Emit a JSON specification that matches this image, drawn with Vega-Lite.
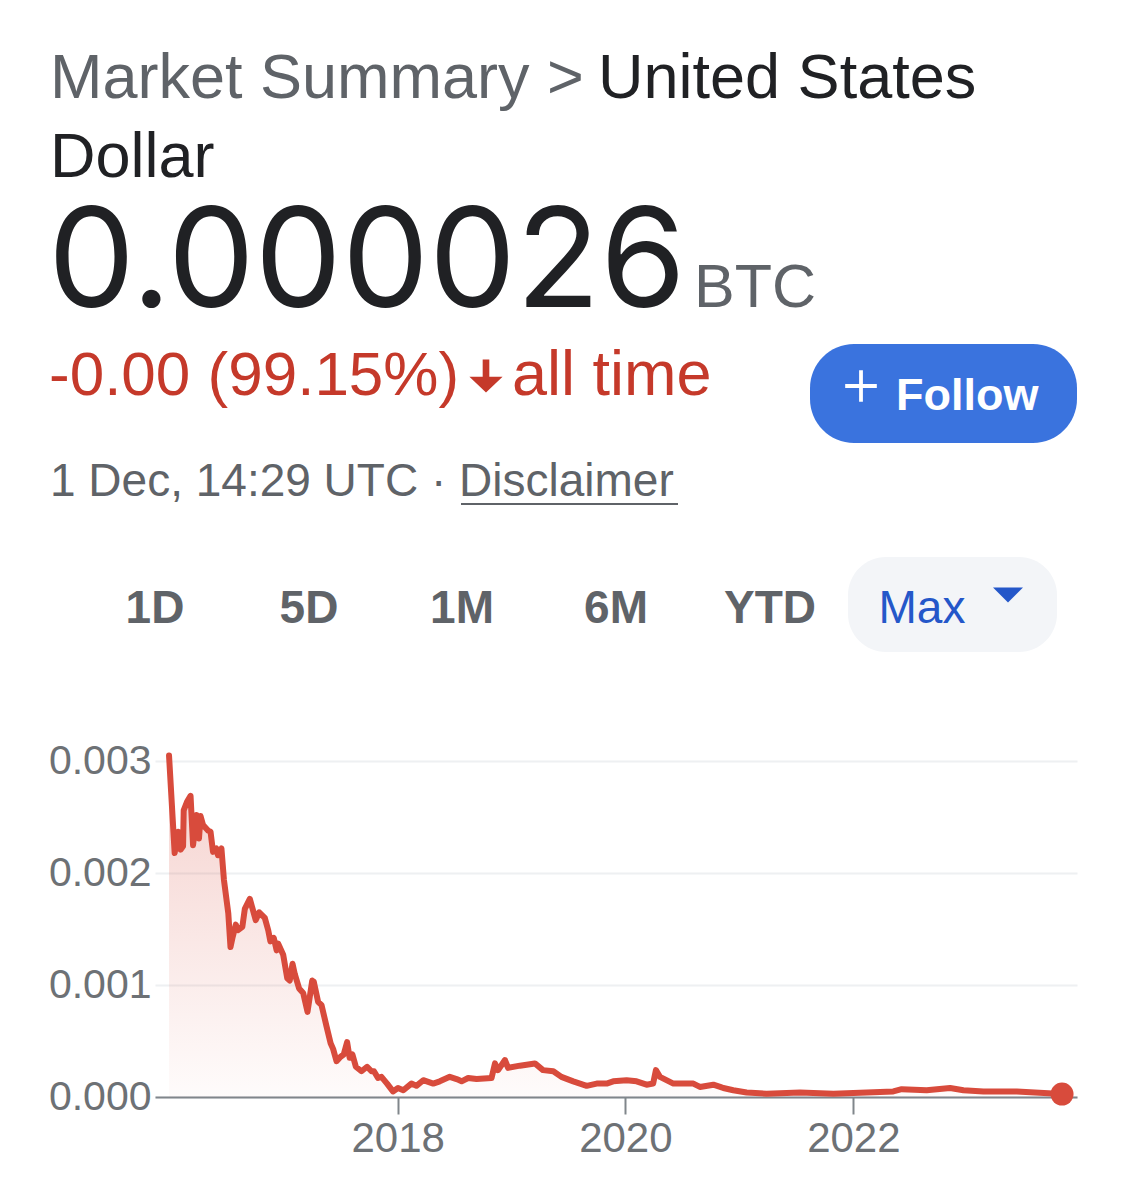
{
  "$schema": "https://vega.github.io/schema/vega-lite/v6.json",
  "width": 922,
  "height": 347,
  "autosize": {"type": "none"},
  "padding": {"left": 155, "top": 750, "right": 48, "bottom": 86},
  "background": "#ffffff",
  "config": {
    "view": {"stroke": null},
    "font": "Liberation Sans",
    "axisX": {"domainColor": "#80868b", "domainWidth": 2, "tickColor": "#80868b", "tickWidth": 2, "tickSize": 17, "labelFontSize": 42, "labelColor": "#6d7175", "labelPadding": 4, "grid": false, "title": null, "labelFont": "Liberation Sans"},
    "axisY": {"domain": false, "ticks": false, "labelFontSize": 41, "labelColor": "#6d7175", "labelPadding": 4, "gridColor": "#eef0f2", "gridWidth": 2, "title": null, "labelFont": "Liberation Sans"}
  },
  "datasets": {
    "series": [
      {"date": "2015-12-30", "value": 0.00305},
      {"date": "2016-01-17", "value": 0.00218},
      {"date": "2016-01-28", "value": 0.00237},
      {"date": "2016-02-05", "value": 0.00221},
      {"date": "2016-02-13", "value": 0.00224},
      {"date": "2016-02-15", "value": 0.00256},
      {"date": "2016-02-26", "value": 0.00264},
      {"date": "2016-03-08", "value": 0.00269},
      {"date": "2016-03-16", "value": 0.00225},
      {"date": "2016-03-27", "value": 0.00252},
      {"date": "2016-04-04", "value": 0.00231},
      {"date": "2016-04-09", "value": 0.00251},
      {"date": "2016-04-17", "value": 0.00243},
      {"date": "2016-05-03", "value": 0.00238},
      {"date": "2016-05-11", "value": 0.00237},
      {"date": "2016-05-19", "value": 0.00219},
      {"date": "2016-05-30", "value": 0.00222},
      {"date": "2016-06-04", "value": 0.00216},
      {"date": "2016-06-15", "value": 0.00222},
      {"date": "2016-06-23", "value": 0.00194},
      {"date": "2016-07-07", "value": 0.00164},
      {"date": "2016-07-14", "value": 0.00134},
      {"date": "2016-07-21", "value": 0.00143},
      {"date": "2016-07-31", "value": 0.00154},
      {"date": "2016-08-07", "value": 0.00149},
      {"date": "2016-08-21", "value": 0.00152},
      {"date": "2016-08-29", "value": 0.00168},
      {"date": "2016-09-14", "value": 0.00177},
      {"date": "2016-10-03", "value": 0.00158},
      {"date": "2016-10-14", "value": 0.00165},
      {"date": "2016-11-01", "value": 0.00160},
      {"date": "2016-11-12", "value": 0.00149},
      {"date": "2016-11-19", "value": 0.00139},
      {"date": "2016-11-30", "value": 0.00142},
      {"date": "2016-12-09", "value": 0.00131},
      {"date": "2016-12-14", "value": 0.00137},
      {"date": "2016-12-30", "value": 0.00127},
      {"date": "2017-01-12", "value": 0.00106},
      {"date": "2017-01-20", "value": 0.00104},
      {"date": "2017-01-29", "value": 0.00119},
      {"date": "2017-02-05", "value": 0.00110},
      {"date": "2017-02-19", "value": 0.00097},
      {"date": "2017-03-04", "value": 0.00093},
      {"date": "2017-03-18", "value": 0.00076},
      {"date": "2017-04-02", "value": 0.00104},
      {"date": "2017-04-07", "value": 0.00103},
      {"date": "2017-04-21", "value": 0.00085},
      {"date": "2017-05-02", "value": 0.00082},
      {"date": "2017-05-18", "value": 0.00063},
      {"date": "2017-05-31", "value": 0.00048},
      {"date": "2017-06-08", "value": 0.00043},
      {"date": "2017-06-19", "value": 0.00032},
      {"date": "2017-07-02", "value": 0.00036},
      {"date": "2017-07-12", "value": 0.00038},
      {"date": "2017-07-23", "value": 0.00049},
      {"date": "2017-07-31", "value": 0.00035},
      {"date": "2017-08-09", "value": 0.00038},
      {"date": "2017-08-20", "value": 0.00027},
      {"date": "2017-09-07", "value": 0.00023},
      {"date": "2017-09-25", "value": 0.00027},
      {"date": "2017-10-09", "value": 0.00023},
      {"date": "2017-10-17", "value": 0.00023},
      {"date": "2017-10-30", "value": 0.00017},
      {"date": "2017-11-10", "value": 0.00018},
      {"date": "2017-11-28", "value": 0.00012},
      {"date": "2017-12-17", "value": 0.00005},
      {"date": "2018-01-02", "value": 0.00008},
      {"date": "2018-01-19", "value": 0.00006},
      {"date": "2018-02-14", "value": 0.00012},
      {"date": "2018-03-02", "value": 0.00010},
      {"date": "2018-03-24", "value": 0.00015},
      {"date": "2018-04-25", "value": 0.00012},
      {"date": "2018-05-16", "value": 0.00014},
      {"date": "2018-06-17", "value": 0.00018},
      {"date": "2018-07-09", "value": 0.00016},
      {"date": "2018-07-25", "value": 0.00014},
      {"date": "2018-08-15", "value": 0.00017},
      {"date": "2018-09-11", "value": 0.00016},
      {"date": "2018-10-29", "value": 0.00017},
      {"date": "2018-11-09", "value": 0.00030},
      {"date": "2018-11-19", "value": 0.00024},
      {"date": "2018-12-11", "value": 0.00033},
      {"date": "2018-12-21", "value": 0.00026},
      {"date": "2019-01-28", "value": 0.00028},
      {"date": "2019-03-17", "value": 0.00030},
      {"date": "2019-04-12", "value": 0.00024},
      {"date": "2019-05-15", "value": 0.00023},
      {"date": "2019-06-10", "value": 0.00018},
      {"date": "2019-07-18", "value": 0.00014},
      {"date": "2019-08-30", "value": 0.00010},
      {"date": "2019-10-01", "value": 0.00012},
      {"date": "2019-11-02", "value": 0.00012},
      {"date": "2019-11-23", "value": 0.00014},
      {"date": "2020-01-05", "value": 0.00015},
      {"date": "2020-02-06", "value": 0.00014},
      {"date": "2020-03-09", "value": 0.00011},
      {"date": "2020-03-30", "value": 0.00012},
      {"date": "2020-04-08", "value": 0.00024},
      {"date": "2020-04-21", "value": 0.00018},
      {"date": "2020-06-03", "value": 0.00012},
      {"date": "2020-08-06", "value": 0.00012},
      {"date": "2020-08-27", "value": 0.00009},
      {"date": "2020-10-09", "value": 0.00011},
      {"date": "2020-10-31", "value": 0.00009},
      {"date": "2020-11-10", "value": 0.00008},
      {"date": "2020-12-12", "value": 0.00006},
      {"date": "2021-01-24", "value": 0.00004},
      {"date": "2021-03-29", "value": 0.00003},
      {"date": "2021-07-14", "value": 0.00004},
      {"date": "2021-10-29", "value": 0.00003},
      {"date": "2022-02-13", "value": 0.00004},
      {"date": "2022-05-09", "value": 0.00005},
      {"date": "2022-06-05", "value": 0.00007},
      {"date": "2022-08-24", "value": 0.00006},
      {"date": "2022-11-07", "value": 0.00008},
      {"date": "2022-12-20", "value": 0.00006},
      {"date": "2023-02-22", "value": 0.00005},
      {"date": "2023-06-09", "value": 0.00005},
      {"date": "2023-11-01", "value": 0.000026}
    ]
  },
  "layer": [
    {
      "data": {"name": "series"},
      "mark": {
        "type": "area",
        "color": {"gradient": "linear", "x1": 0, "y1": 0, "x2": 0, "y2": 1,
          "stops": [{"offset": 0, "color": "rgba(216,75,60,0.26)"}, {"offset": 1, "color": "rgba(216,75,60,0.02)"}]}
      },
      "encoding": {
        "x": {"field": "date", "type": "temporal",
          "scale": {"type": "utc", "domain": [{"year": 2015, "month": 11, "date": 15, "utc": true}, {"year": 2023, "month": 12, "date": 19, "utc": true}]},
          "axis": {"values": [{"year": 2018, "utc": true}, {"year": 2020, "utc": true}, {"year": 2022, "utc": true}], "format": "%Y"}},
        "y": {"field": "value", "type": "quantitative",
          "scale": {"domain": [0, 0.0031], "nice": false},
          "axis": {"values": [0, 0.001, 0.002, 0.003], "format": ".3f"}}
      }
    },
    {
      "data": {"name": "series"},
      "mark": {"type": "line", "color": "#d84b3c", "strokeWidth": 6, "strokeJoin": "round", "strokeCap": "round"},
      "encoding": {
        "x": {"field": "date", "type": "temporal"},
        "y": {"field": "value", "type": "quantitative"}
      }
    },
    {
      "data": {"name": "series"},
      "transform": [{"filter": "datum.value < 0.00003"}],
      "mark": {"type": "circle", "color": "#d84b3c", "size": 530, "opacity": 1},
      "encoding": {
        "x": {"field": "date", "type": "temporal"},
        "y": {"field": "value", "type": "quantitative"}
      }
    },
    {"data": {"values": [{}]}, "mark": {"type": "text", "text": "Market Summary >", "x": -105, "y": -652, "align": "left", "baseline": "alphabetic", "fontSize": 63, "font": "Liberation Sans", "color": "#5f6368"}, "encoding": {}},
    {"data": {"values": [{}]}, "mark": {"type": "text", "text": "United States", "x": 443, "y": -652, "align": "left", "baseline": "alphabetic", "fontSize": 63, "font": "Liberation Sans", "color": "#202124"}, "encoding": {}},
    {"data": {"values": [{}]}, "mark": {"type": "text", "text": "Dollar", "x": -105, "y": -573, "align": "left", "baseline": "alphabetic", "fontSize": 63, "font": "Liberation Sans", "color": "#202124"}, "encoding": {}},
    {"data": {"values": [{}]}, "mark": {"type": "text", "text": "0.000026", "x": -107, "y": -443, "align": "left", "baseline": "alphabetic", "fontSize": 138, "font": "Inter", "color": "#202124"}, "encoding": {}},
    {"data": {"values": [{}]}, "mark": {"type": "text", "text": "BTC", "x": 539, "y": -443, "align": "left", "baseline": "alphabetic", "fontSize": 61, "font": "Liberation Sans", "color": "#5f6368"}, "encoding": {}},
    {"data": {"values": [{}]}, "mark": {"type": "text", "text": "-0.00 (99.15%)", "x": -106, "y": -355, "align": "left", "baseline": "alphabetic", "fontSize": 62, "font": "Liberation Sans", "color": "#c5392a"}, "encoding": {}},
    {"data": {"values": [{}]}, "mark": {"type": "point", "shape": "M-0.2,-1L0.2,-1L0.2,0.05L1,0.05L0,1L-1,0.05L-0.2,0.05Z", "x": 331, "y": -374, "size": 1100, "filled": true, "opacity": 1, "color": "#c5392a", "strokeWidth": 0}, "encoding": {}},
    {"data": {"values": [{}]}, "mark": {"type": "text", "text": "all time", "x": 357, "y": -355, "align": "left", "baseline": "alphabetic", "fontSize": 63, "font": "Liberation Sans", "color": "#c5392a"}, "encoding": {}},
    {"data": {"values": [{}]}, "mark": {"type": "rect", "x": 655, "x2": 922, "y": -406, "y2": -307, "cornerRadius": 44, "color": "#3a73de"}, "encoding": {}},
    {"data": {"values": [{}]}, "mark": {"type": "point", "shape": "M-1,-0.12L1,-0.12L1,0.12L-1,0.12Z M-0.12,-1L0.12,-1L0.12,1L-0.12,1Z", "x": 706, "y": -364, "size": 1000, "filled": true, "opacity": 1, "color": "#ffffff", "strokeWidth": 0}, "encoding": {}},
    {"data": {"values": [{}]}, "mark": {"type": "text", "text": "Follow", "x": 741, "y": -340, "align": "left", "baseline": "alphabetic", "fontSize": 45, "fontWeight": "bold", "font": "Liberation Sans", "color": "#ffffff"}, "encoding": {}},
    {"data": {"values": [{}]}, "mark": {"type": "text", "text": "1 Dec, 14:29 UTC · Disclaimer", "x": -105, "y": -254, "align": "left", "baseline": "alphabetic", "fontSize": 46, "font": "Liberation Sans", "color": "#5f6368"}, "encoding": {}},
    {"data": {"values": [{}]}, "mark": {"type": "rule", "strokeWidth": 2, "color": "#5f6368"}, "encoding": {"x": {"value": 306}, "x2": {"value": 523}, "y": {"value": -246}, "y2": {"value": -246}}},
    {"data": {"values": [{}]}, "mark": {"type": "rect", "x": 693, "x2": 902, "y": -193, "y2": -98, "cornerRadius": 38, "color": "#f3f5f8"}, "encoding": {}},
    {"data": {"values": [{}]}, "mark": {"type": "text", "text": "1D", "x": 0, "y": -127, "align": "center", "baseline": "alphabetic", "fontSize": 46, "fontWeight": "bold", "font": "Liberation Sans", "color": "#5f6368"}, "encoding": {}},
    {"data": {"values": [{}]}, "mark": {"type": "text", "text": "5D", "x": 154, "y": -127, "align": "center", "baseline": "alphabetic", "fontSize": 46, "fontWeight": "bold", "font": "Liberation Sans", "color": "#5f6368"}, "encoding": {}},
    {"data": {"values": [{}]}, "mark": {"type": "text", "text": "1M", "x": 307, "y": -127, "align": "center", "baseline": "alphabetic", "fontSize": 46, "fontWeight": "bold", "font": "Liberation Sans", "color": "#5f6368"}, "encoding": {}},
    {"data": {"values": [{}]}, "mark": {"type": "text", "text": "6M", "x": 461, "y": -127, "align": "center", "baseline": "alphabetic", "fontSize": 46, "fontWeight": "bold", "font": "Liberation Sans", "color": "#5f6368"}, "encoding": {}},
    {"data": {"values": [{}]}, "mark": {"type": "text", "text": "YTD", "x": 615, "y": -127, "align": "center", "baseline": "alphabetic", "fontSize": 46, "fontWeight": "bold", "font": "Liberation Sans", "color": "#5f6368"}, "encoding": {}},
    {"data": {"values": [{}]}, "mark": {"type": "text", "text": "Max", "x": 767, "y": -127, "align": "center", "baseline": "alphabetic", "fontSize": 46, "font": "Liberation Sans", "color": "#2457c9"}, "encoding": {}},
    {"data": {"values": [{}]}, "mark": {"type": "point", "shape": "M-1,-0.5L1,-0.5L0,0.5Z", "x": 853, "y": -155, "size": 900, "filled": true, "opacity": 1, "color": "#2457c9", "strokeWidth": 0}, "encoding": {}}
  ]
}
